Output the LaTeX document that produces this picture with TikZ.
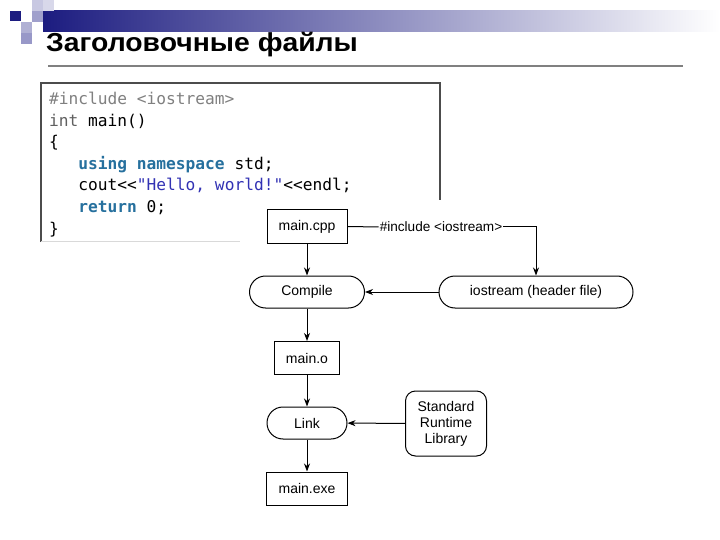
\documentclass[tikz,border=0pt]{standalone}
\usepackage{fontspec}
\usepackage{graphicx}
\setmainfont{Liberation Sans}
\newfontfamily\codefont{DejaVu Sans Mono}
\usetikzlibrary{arrows.meta}
\definecolor{navy}{RGB}{28,28,128}
\definecolor{lavA}{RGB}{200,200,226}
\definecolor{lavB}{RGB}{216,216,234}
\definecolor{lavC}{RGB}{160,160,204}
\definecolor{lavD}{RGB}{176,176,212}
\definecolor{lavE}{RGB}{152,152,200}
\definecolor{kwblue}{RGB}{38,112,158}
\definecolor{strblue}{RGB}{50,50,180}
\definecolor{cmtgray}{RGB}{128,128,128}
\definecolor{intgray}{RGB}{96,96,96}
\tikzset{
  codeline/.style={anchor=base west, inner sep=0pt, font=\codefont\fontsize{16.2}{18}\selectfont},
  sqbox/.style={draw=black, line width=1pt, minimum height=33pt, inner sep=0pt, font=\fontsize{14}{16}\selectfont},
  stadium/.style={draw=black, line width=1pt, rounded corners=16pt, minimum height=32pt, inner sep=0pt, font=\fontsize{14}{16}\selectfont},
  flow/.style={line width=1pt, -{Stealth[length=8pt,width=6pt,inset=2.5pt]}},
  plain/.style={line width=1pt}
}
\begin{document}
\begin{tikzpicture}[x=1pt,y=-1pt]
\useasboundingbox (0,0) rectangle (720,540);
\fill[white] (0,0) rectangle (720,540);
% header decoration
\shade[left color=navy, right color=white] (43,11) rectangle (720,32);
\fill[navy] (10,11) rectangle (21,21);
\fill[lavA] (32,0) rectangle (43,11);
\fill[lavB] (43,0) rectangle (54,11);
\fill[lavC] (32,11) rectangle (43,22);
\fill[lavD] (21,22) rectangle (32,33);
\fill[lavE] (21,33) rectangle (32,44);
% title
\node[anchor=base west, inner sep=0pt, font=\bfseries\fontsize{26}{30}\selectfont] (title) at (46,52) {\scalebox{1.09}[1]{Заголовочные файлы}};
\draw[cmtgray, line width=2pt] (48,66) -- (683,66);
% code box
\draw[black!70, line width=1.2pt] (41,242) -- (41,83) -- (440,83) -- (440,200);
\draw[black!15, line width=1pt] (41,241.5) -- (240,241.5);
\node[codeline, text=cmtgray] (c1) at (49,105) {\#include <iostream>};
\node[codeline] (c2) at (49,126.5) {\textcolor{intgray}{int} main()};
\node[codeline] (c3) at (49,148) {\{};
\node[codeline] (c4) at (49,169.5) {\hphantom{xxx}\textcolor{kwblue}{\bfseries using namespace} std;};
\node[codeline] (c5) at (49,191) {\hphantom{xxx}cout<{}<\textcolor{strblue}{"Hello, world!"}<{}<endl;};
\node[codeline] (c6) at (49,212.5) {\hphantom{xxx}\textcolor{kwblue}{\bfseries return} 0;};
\node[codeline] (c7) at (49,234) {\}};
% diagram
\node[sqbox, minimum width=80pt] (maincpp) at (307,226.5) {main.cpp};
\node[stadium, minimum width=115pt] (compile) at (307,292) {Compile};
\node[stadium, minimum width=194pt] (iostream) at (536,292) {iostream (header file)};
\node[sqbox, minimum width=65pt] (maino) at (307,358) {main.o};
\node[stadium, minimum width=80pt] (link) at (307,423) {Link};
\node[draw=black, line width=1pt, rounded corners=10pt, minimum width=81pt, minimum height=65pt, inner sep=0pt, align=center, font=\fontsize{14}{16}\selectfont] (stdlib) at (446,423.5) {Standard\\Runtime\\Library};
\node[sqbox, minimum width=81pt] (mainexe) at (307,488.5) {main.exe};
\node[inner sep=1pt, font=\fontsize{13.6}{15}\selectfont] (inc) at (441,227) {\#include <iostream>};
\coordinate (corner) at (536,227);
\draw[plain] (maincpp.east) -- (inc.west);
\draw[flow] (inc.east) -- (corner) -- (iostream.north);
\draw[flow] (maincpp) -- (compile);
\draw[flow] (iostream) -- (compile);
\draw[flow] (compile) -- (maino);
\draw[flow] (maino) -- (link);
\draw[flow] (stdlib) -- (link);
\draw[flow] (link) -- (mainexe);
\end{tikzpicture}
\end{document}
